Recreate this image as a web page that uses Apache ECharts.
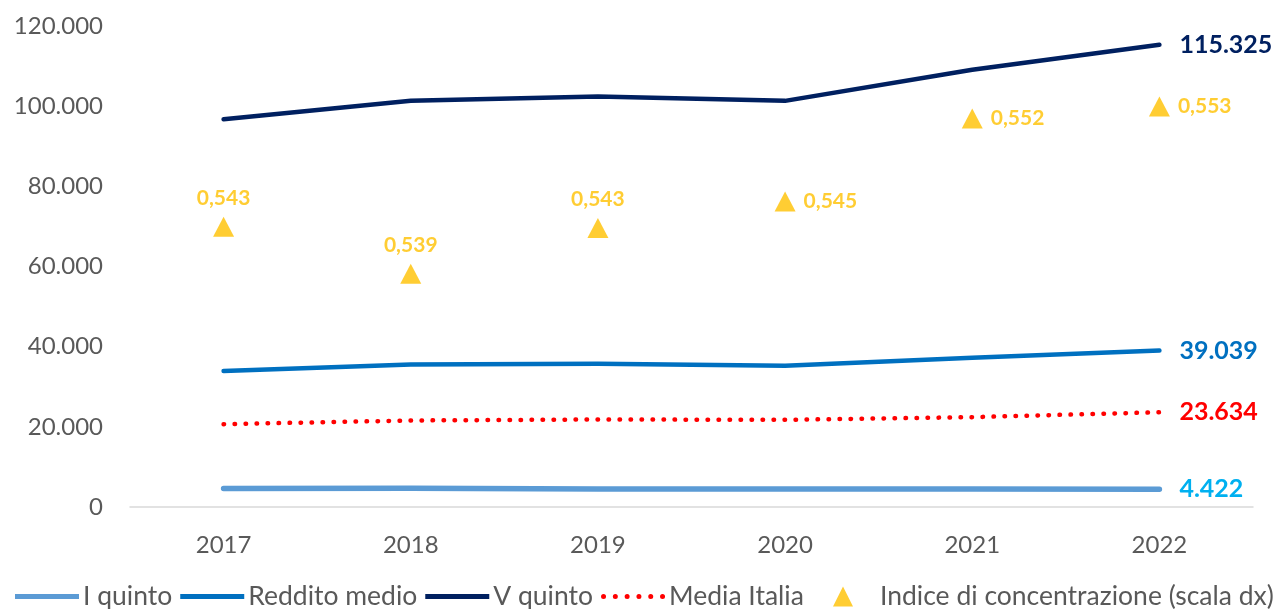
<!DOCTYPE html>
<html>
<head>
<meta charset="utf-8">
<title>Indice di concentrazione</title>
<script src="https://cdn.jsdelivr.net/npm/echarts@6/dist/echarts.min.js"></script>
<style>
  html, body { margin: 0; padding: 0; background: #fff; }
  #chart { width: 1280px; height: 609px; }
</style>
</head>
<body>
<div id="chart"></div>
<script>
const years = ["2017", "2018", "2019", "2020", "2021", "2022"];
const primoQuinto = [4600, 4650, 4520, 4500, 4460, 4422];
const redditoMedio = [33925, 35575, 35750, 35250, 37250, 39039];
const quintoQuinto = [96750, 101325, 102425, 101325, 109075, 115325];
const mediaItalia = [20667, 21583, 21833, 21750, 22417, 23634];
const indiceConc = [0.5433, 0.5394, 0.5432, 0.5454, 0.5523, 0.5533];
const yTicks = { min: 0, max: 120000, step: 20000 };

const font = "Lato, 'DejaVu Sans', sans-serif";
const grey = "#595959";

function thousands(v) {
  return String(Math.round(v)).replace(/\B(?=(\d{3})+(?!\d))/g, ".");
}

// legend icons: a thick bar, a row of dots, a triangle
const barIcon = "path://M0,0 H64 V5 H0 Z";
let dotIcon = "path://";
for (let i = 0; i < 6; i++) {
  const x = i * 11.8;
  dotIcon += `M${x},2.5 a2.5,2.5 0 1,0 5,0 a2.5,2.5 0 1,0 -5,0 Z `;
}
const triIcon = "path://M10,0 L20,20 L0,20 Z";

function lineSeries(name, data, color, width, labelColor, dash) {
  return {
    name: name,
    type: "line",
    data: data,
    symbol: "none",
    smooth: false,
    lineStyle: {
      color: color,
      width: width,
      type: dash || "solid",
      cap: "round",
      join: "round",
    },
    itemStyle: { color: color },
    endLabel: {
      show: true,
      formatter: (p) => thousands(p.value),
      color: labelColor,
      fontFamily: font,
      fontSize: 25,
      fontWeight: "bold",
      distance: 20,
    },
    emphasis: { disabled: true },
    z: 3,
  };
}

// labels sit above for the first three points, to the right for the others
const indicePos = ["top", "top", "top", "right", "right", "right"];

const legendText = { color: grey, fontSize: 26.5, fontFamily: font };

const chart = echarts.init(document.getElementById("chart"));

chart.setOption({
  animation: false,
  textStyle: { fontFamily: font },
  grid: {
    left: 130,
    right: 27,
    top: 26,
    bottom: 102,
  },
  legend: [
    {
      left: 10,
      top: 578,
      itemWidth: 64,
      itemHeight: 20,
      itemGap: 8,
      symbolKeepAspect: true,
      textStyle: Object.assign({ padding: [0, 0, 0, -1] }, legendText),
      data: [
        { name: "I quinto", icon: barIcon },
        { name: "Reddito medio", icon: barIcon },
        { name: "V quinto", icon: barIcon },
        { name: "Media Italia", icon: dotIcon },
      ],
    },
    {
      left: 828,
      top: 578,
      itemWidth: 20,
      itemHeight: 20,
      textStyle: Object.assign({ padding: [0, 0, 0, 22] }, legendText),
      data: [{ name: "Indice di concentrazione (scala dx)", icon: triIcon }],
    },
  ],
  xAxis: {
    type: "category",
    data: years,
    boundaryGap: true,
    axisLine: { lineStyle: { color: "#D9D9D9", width: 1.5 } },
    axisTick: { show: false },
    axisLabel: { color: grey, fontSize: 24, margin: 26, fontFamily: font },
    splitLine: { show: false },
  },
  yAxis: [
    {
      type: "value",
      min: yTicks.min,
      max: yTicks.max,
      interval: yTicks.step,
      axisLine: { show: false },
      axisTick: { show: false },
      splitLine: { show: false },
      axisLabel: {
        color: grey,
        fontSize: 24,
        margin: 27,
        fontFamily: font,
        formatter: (v) => thousands(v),
      },
    },
    {
      type: "value",
      min: 0.52,
      max: 0.56,
      show: false,
      splitLine: { show: false },
    },
  ],
  series: [
    lineSeries("I quinto", primoQuinto, "#5B9BD5", 5.5, "#00B0F0"),
    lineSeries("Reddito medio", redditoMedio, "#0070C0", 4.5, "#0070C0"),
    lineSeries("V quinto", quintoQuinto, "#002060", 4.5, "#002060"),
    lineSeries("Media Italia", mediaItalia, "#FF0000", 4.5, "#FF0000", [0.5, 10.5]),
    {
      name: "Indice di concentrazione (scala dx)",
      type: "scatter",
      yAxisIndex: 1,
      symbol: "triangle",
      symbolSize: [21, 20],
      itemStyle: { color: "#FFC000" },
      data: indiceConc.map((v, i) => ({
        value: v,
        label: { position: indicePos[i] },
      })),
      label: {
        show: true,
        color: "#FFC000",
        fontFamily: font,
        fontSize: 21,
        fontWeight: "bold",
        distance: 8,
        formatter: (p) => p.value.toFixed(3).replace(".", ","),
      },
      emphasis: { disabled: true },
      z: 4,
    },
  ],
});
</script>
</body>
</html>
